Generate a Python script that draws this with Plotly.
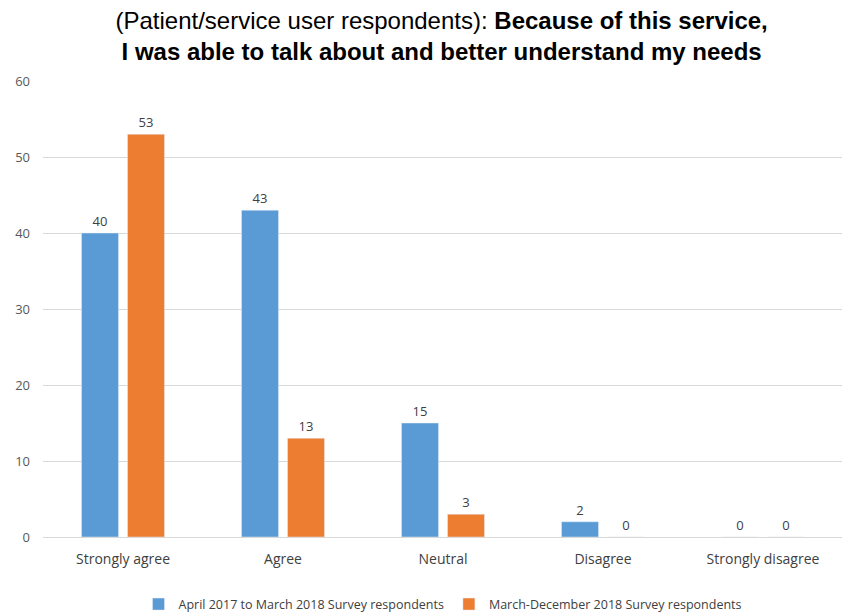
import plotly.graph_objects as go

categories = ["Strongly agree", "Agree", "Neutral", "Disagree", "Strongly disagree"]
series1_name = "April 2017 to March 2018 Survey respondents"
series1_values = [40, 43, 15, 2, 0]
series2_name = "March-December 2018 Survey respondents"
series2_values = [53, 13, 3, 0, 0]
y_ticks = [0, 10, 20, 30, 40, 50, 60]

FONT = "Open Sans, Liberation Sans, sans-serif"
label_font = dict(family=FONT, size=13, color="#404040")

fig = go.Figure()
fig.add_trace(go.Bar(
    x=categories, y=series1_values, name=series1_name,
    marker=dict(color="#5B9BD5"),
    text=[str(v) for v in series1_values], textposition="outside",
    textfont=label_font, cliponaxis=False,
))
fig.add_trace(go.Bar(
    x=categories, y=series2_values, name=series2_name,
    marker=dict(color="#ED7D31"),
    text=[str(v) for v in series2_values], textposition="outside",
    textfont=label_font, cliponaxis=False,
))

fig.update_layout(
    width=842, height=605,
    margin=dict(l=35, r=7, t=73, b=76, autoexpand=False),
    paper_bgcolor="white", plot_bgcolor="white",
    barmode="group", bargap=0.425, bargroupgap=0.196,
    title=dict(
        text="(Patient/service user respondents): <b>Because of this service,</b><br><b>I was able to talk about and better understand my needs</b>",
        x=0.515, xanchor="center", yref="container", y=0.966, yanchor="middle",
        font=dict(family="Liberation Sans, Arial, sans-serif", size=24, color="#000000"),
        automargin=False,
    ),
    xaxis=dict(
        showgrid=False, showline=False, ticks="outside", ticklen=9, tickcolor="rgba(0,0,0,0)",
        automargin=False,
        tickfont=dict(family=FONT, size=14, color="#404040"),
    ),
    yaxis=dict(
        range=[0, 60], tickvals=y_ticks, showgrid=True, gridcolor="#D9D9D9",
        zeroline=True, zerolinecolor="#D9D9D9", zerolinewidth=1,
        showline=False, ticks="", ticklabelstandoff=12, automargin=False,
        tickfont=dict(family=FONT, size=13, color="#595959"),
    ),
    legend=dict(
        orientation="h", x=0.5, xanchor="center", y=-0.115, yanchor="top",
        font=dict(family=FONT, size=12.5, color="#404040"),
        itemwidth=30, traceorder="normal",
    ),
    showlegend=True,
)

fig.write_html("out.html")
